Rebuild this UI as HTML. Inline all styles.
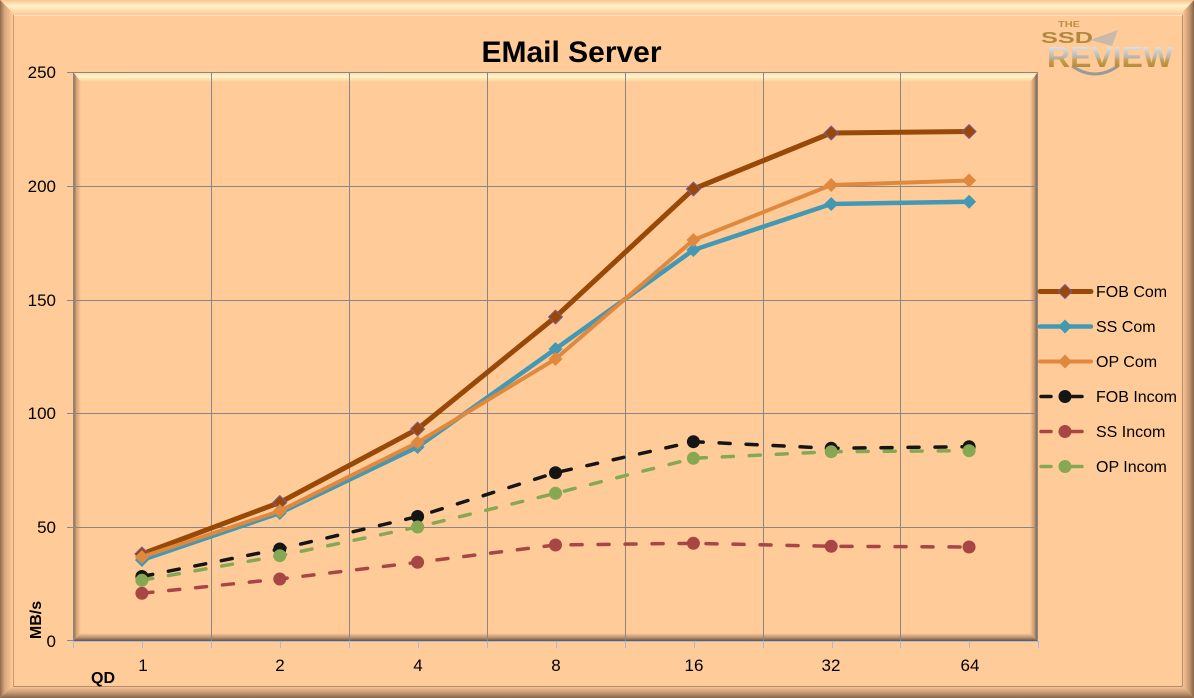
<!DOCTYPE html>
<html><head><meta charset="utf-8"><style>
html,body{margin:0;padding:0;background:#FFCC99;}
svg{display:block;}
text{font-family:"Liberation Sans",sans-serif;}
</style></head><body>
<svg width="1194" height="698" viewBox="0 0 1194 698" xmlns="http://www.w3.org/2000/svg">
<defs>
<linearGradient id="oTop" x1="0" y1="0" x2="0" y2="1"><stop offset="0" stop-color="#F8C490"/><stop offset="0.45" stop-color="#FFF2C8"/><stop offset="1" stop-color="#FFD2A2"/></linearGradient>
<linearGradient id="oLeft" x1="0" y1="0" x2="1" y2="0"><stop offset="0" stop-color="#8E6A50"/><stop offset="0.35" stop-color="#D8A67A"/><stop offset="1" stop-color="#FFCC99"/></linearGradient>
<linearGradient id="oRight" x1="0" y1="0" x2="1" y2="0"><stop offset="0" stop-color="#FFCC99"/><stop offset="0.6" stop-color="#C9986F"/><stop offset="1" stop-color="#85654C"/></linearGradient>
<linearGradient id="oBot" x1="0" y1="0" x2="0" y2="1"><stop offset="0" stop-color="#FFCC99"/><stop offset="0.6" stop-color="#C29470"/><stop offset="1" stop-color="#85654C"/></linearGradient>
<linearGradient id="pTop" x1="0" y1="0" x2="0" y2="1"><stop offset="0" stop-color="#FFD5A5"/><stop offset="0.45" stop-color="#FFF4C8"/><stop offset="1" stop-color="#FFCC99"/></linearGradient>
<linearGradient id="pLeft" x1="0" y1="0" x2="1" y2="0"><stop offset="0" stop-color="#7C5E48"/><stop offset="0.4" stop-color="#CF9F76"/><stop offset="1" stop-color="#FFCC99"/></linearGradient>
<linearGradient id="pRight" x1="0" y1="0" x2="1" y2="0"><stop offset="0" stop-color="#FFCC99"/><stop offset="0.55" stop-color="#C59670"/><stop offset="1" stop-color="#6A5040"/></linearGradient>
<linearGradient id="pBot" x1="0" y1="0" x2="0" y2="1"><stop offset="0" stop-color="#FFCC99"/><stop offset="0.55" stop-color="#BE9270"/><stop offset="1" stop-color="#6A5040"/></linearGradient>
<linearGradient id="logoG" x1="0" y1="0" x2="0" y2="1"><stop offset="0" stop-color="#F4F4F4"/><stop offset="0.5" stop-color="#B8B0A8"/><stop offset="0.55" stop-color="#C9A050"/><stop offset="1" stop-color="#A07828"/></linearGradient>
</defs>
<rect x="0" y="0" width="1194" height="698" fill="#FFCC99"/>
<!-- outer bevel -->
<polygon points="0,0 1194,0 1182,13 13,13" fill="url(#oTop)"/>
<polygon points="0,0 13,13 13,686 0,698" fill="url(#oLeft)"/>
<polygon points="1194,0 1194,698 1182,686 1182,13" fill="url(#oRight)"/>
<polygon points="0,698 1194,698 1182,686 13,686" fill="url(#oBot)"/>
<line x1="13" y1="15.5" x2="1183" y2="15.5" stroke="#FFE6C0" stroke-width="1"/>
<line x1="13.5" y1="15" x2="13.5" y2="687" stroke="#C49A74" stroke-width="1"/>
<line x1="1182.5" y1="15" x2="1182.5" y2="687" stroke="#B48C6C" stroke-width="1"/>
<line x1="13" y1="686.5" x2="1183" y2="686.5" stroke="#B48C6C" stroke-width="1"/>

<!-- logo -->
<text x="1058" y="27" font-size="8" font-weight="bold" fill="#B89048" textLength="22" lengthAdjust="spacingAndGlyphs">THE</text>
<text x="1041" y="43" font-size="16" font-weight="bold" fill="#B08840" textLength="52" lengthAdjust="spacingAndGlyphs">SSD</text>
<path d="M1090 40 L1118 30 L1112 46 Z" fill="#B0B0B0" opacity="0.7"/>
<path d="M1072 66 Q1095 82 1118 66" stroke="#9A9A9A" stroke-width="3" fill="none"/>
<text x="1047" y="67" font-size="29" font-weight="bold" fill="url(#logoG)" textLength="126" lengthAdjust="spacingAndGlyphs">REVIEW</text>

<!-- title -->
<text x="571.5" y="62" font-size="30" font-weight="bold" text-anchor="middle" fill="#000">EMail Server</text>

<!-- plot bevel -->
<rect x="73" y="72" width="965" height="569" fill="#FFCC99"/>
<polygon points="73,72 1038,72 1030,82 81,82" fill="url(#pTop)"/>
<polygon points="73,72 81,82 81,633 73,641" fill="url(#pLeft)"/>
<polygon points="1038,72 1038,641 1030,633 1030,82" fill="url(#pRight)"/>
<polygon points="73,641 1038,641 1030,633 81,633" fill="url(#pBot)"/>

<!-- gridlines -->
<g stroke="#878787" stroke-width="1">
<line x1="67" y1="72.5" x2="1038" y2="72.5"/>
<line x1="67" y1="186.5" x2="1038" y2="186.5"/>
<line x1="67" y1="300.5" x2="1038" y2="300.5"/>
<line x1="67" y1="413.5" x2="1038" y2="413.5"/>
<line x1="67" y1="527.5" x2="1038" y2="527.5"/>
<line x1="67" y1="640.5" x2="73" y2="640.5"/>
<line x1="211.5" y1="72" x2="211.5" y2="641"/>
<line x1="349.5" y1="72" x2="349.5" y2="641"/>
<line x1="487.5" y1="72" x2="487.5" y2="641"/>
<line x1="625.5" y1="72" x2="625.5" y2="641"/>
<line x1="763.5" y1="72" x2="763.5" y2="641"/>
<line x1="900.5" y1="72" x2="900.5" y2="641"/>
<line x1="73.5" y1="72" x2="73.5" y2="641"/>
<line x1="1037.5" y1="72" x2="1037.5" y2="641"/>
</g>
<!-- x axis -->
<g stroke="#9DBDE6" stroke-width="1">
<line x1="73" y1="641.5" x2="1039" y2="641.5"/>
<line x1="73.5" y1="641" x2="73.5" y2="648"/>
<line x1="142.5" y1="641" x2="142.5" y2="648"/>
<line x1="211.5" y1="641" x2="211.5" y2="648"/>
<line x1="280.5" y1="641" x2="280.5" y2="648"/>
<line x1="349.5" y1="641" x2="349.5" y2="648"/>
<line x1="418.5" y1="641" x2="418.5" y2="648"/>
<line x1="487.5" y1="641" x2="487.5" y2="648"/>
<line x1="556.5" y1="641" x2="556.5" y2="648"/>
<line x1="625.5" y1="641" x2="625.5" y2="648"/>
<line x1="694.5" y1="641" x2="694.5" y2="648"/>
<line x1="763.5" y1="641" x2="763.5" y2="648"/>
<line x1="832.5" y1="641" x2="832.5" y2="648"/>
<line x1="900.5" y1="641" x2="900.5" y2="648"/>
<line x1="969.5" y1="641" x2="969.5" y2="648"/>
<line x1="1038.5" y1="641" x2="1038.5" y2="648"/>
</g>

<!-- y labels -->
<g font-size="17" fill="#000" text-anchor="end">
<text x="56" y="78">250</text>
<text x="56" y="192">200</text>
<text x="56" y="306">150</text>
<text x="56" y="419">100</text>
<text x="56" y="533">50</text>
<text x="56" y="647">0</text>
</g>
<!-- x labels -->
<g font-size="17" fill="#000" text-anchor="middle">
<text x="143" y="671">1</text>
<text x="280" y="671">2</text>
<text x="418" y="671">4</text>
<text x="556" y="671">8</text>
<text x="694" y="671">16</text>
<text x="831" y="671">32</text>
<text x="970" y="671">64</text>
</g>
<text x="103" y="683" font-size="16" font-weight="bold" text-anchor="middle" fill="#000">QD</text>
<text transform="translate(41,620) rotate(-90)" font-size="16" font-weight="bold" text-anchor="middle" fill="#000">MB/s</text>

<!-- series -->
<g fill="none" stroke-linejoin="round">
<polyline points="141.9,554 279.8,502.5 417.6,429 555.5,317 693.4,189 831.2,133 969.1,131.5" stroke="#984807" stroke-width="5"/>
<g fill="#984807" stroke="#7E5C98" stroke-width="1">
<path d="M141.9,547 l7,7 l-7,7 l-7,-7z"/><path d="M279.8,495.5 l7,7 l-7,7 l-7,-7z"/><path d="M417.6,422 l7,7 l-7,7 l-7,-7z"/><path d="M555.5,310 l7,7 l-7,7 l-7,-7z"/><path d="M693.4,182 l7,7 l-7,7 l-7,-7z"/><path d="M831.2,126 l7,7 l-7,7 l-7,-7z"/><path d="M969.1,124.5 l7,7 l-7,7 l-7,-7z"/>
</g>
<polyline points="141.9,560 279.8,513 417.6,447 555.5,349 693.4,250 831.2,204 969.1,201.7" stroke="#4398B4" stroke-width="4.5"/>
<g fill="#4398B4" stroke="none">
<path d="M141.9,553 l7,7 l-7,7 l-7,-7z"/><path d="M279.8,506 l7,7 l-7,7 l-7,-7z"/><path d="M417.6,440 l7,7 l-7,7 l-7,-7z"/><path d="M555.5,342 l7,7 l-7,7 l-7,-7z"/><path d="M693.4,243 l7,7 l-7,7 l-7,-7z"/><path d="M831.2,197 l7,7 l-7,7 l-7,-7z"/><path d="M969.1,194.7 l7,7 l-7,7 l-7,-7z"/>
</g>
<polyline points="141.9,557 279.8,511 417.6,442.5 555.5,359 693.4,240 831.2,185 969.1,180.5" stroke="#E0883E" stroke-width="4"/>
<g fill="#E0883E" stroke="none">
<path d="M141.9,550 l7,7 l-7,7 l-7,-7z"/><path d="M279.8,504 l7,7 l-7,7 l-7,-7z"/><path d="M417.6,435.5 l7,7 l-7,7 l-7,-7z"/><path d="M555.5,352 l7,7 l-7,7 l-7,-7z"/><path d="M693.4,233 l7,7 l-7,7 l-7,-7z"/><path d="M831.2,178 l7,7 l-7,7 l-7,-7z"/><path d="M969.1,173.5 l7,7 l-7,7 l-7,-7z"/>
</g>
<polyline points="141.9,576.5 279.8,549 417.6,516.5 555.5,472.7 693.4,441.7 831.2,448.3 969.1,446.7" stroke="#151515" stroke-width="3.5" stroke-dasharray="11 16" stroke-linecap="round"/>
<g fill="#151515"><circle cx="141.9" cy="576.5" r="6.5"/><circle cx="279.8" cy="549" r="6.5"/><circle cx="417.6" cy="516.5" r="6.5"/><circle cx="555.5" cy="472.7" r="6.5"/><circle cx="693.4" cy="441.7" r="6.5"/><circle cx="831.2" cy="448.3" r="6.5"/><circle cx="969.1" cy="446.7" r="6.5"/></g>
<polyline points="141.9,593.3 279.8,579 417.6,562.3 555.5,545 693.4,543.3 831.2,546.3 969.1,547" stroke="#A84545" stroke-width="3.5" stroke-dasharray="11 16" stroke-linecap="round"/>
<g fill="#A84545"><circle cx="141.9" cy="593.3" r="6.5"/><circle cx="279.8" cy="579" r="6.5"/><circle cx="417.6" cy="562.3" r="6.5"/><circle cx="555.5" cy="545" r="6.5"/><circle cx="693.4" cy="543.3" r="6.5"/><circle cx="831.2" cy="546.3" r="6.5"/><circle cx="969.1" cy="547" r="6.5"/></g>
<polyline points="141.9,580.3 279.8,555.7 417.6,527 555.5,493.3 693.4,458.3 831.2,451.7 969.1,450.7" stroke="#87A852" stroke-width="3.5" stroke-dasharray="11 16" stroke-linecap="round"/>
<g fill="#87A852"><circle cx="141.9" cy="580.3" r="6.5"/><circle cx="279.8" cy="555.7" r="6.5"/><circle cx="417.6" cy="527" r="6.5"/><circle cx="555.5" cy="493.3" r="6.5"/><circle cx="693.4" cy="458.3" r="6.5"/><circle cx="831.2" cy="451.7" r="6.5"/><circle cx="969.1" cy="450.7" r="6.5"/></g>
</g>

<!-- legend -->
<g>
<line x1="1040" y1="291.5" x2="1091" y2="291.5" stroke="#984807" stroke-width="5" stroke-linecap="round"/>
<path d="M1065,284.5 l7,7 l-7,7 l-7,-7z" fill="#984807" stroke="#7E5C98" stroke-width="1"/>
<line x1="1040" y1="326.5" x2="1091" y2="326.5" stroke="#4398B4" stroke-width="4.5" stroke-linecap="round"/>
<path d="M1065,319.5 l7,7 l-7,7 l-7,-7z" fill="#4398B4"/>
<line x1="1040" y1="361.5" x2="1091" y2="361.5" stroke="#E0883E" stroke-width="4" stroke-linecap="round"/>
<path d="M1065,354.5 l7,7 l-7,7 l-7,-7z" fill="#E0883E"/>
<g stroke-width="3.5" stroke-linecap="round">
<line x1="1041" y1="396.5" x2="1051" y2="396.5" stroke="#151515"/><line x1="1072" y1="396.5" x2="1082" y2="396.5" stroke="#151515"/>
<line x1="1041" y1="431.5" x2="1051" y2="431.5" stroke="#A84545"/><line x1="1072" y1="431.5" x2="1082" y2="431.5" stroke="#A84545"/>
<line x1="1041" y1="466.5" x2="1051" y2="466.5" stroke="#87A852"/><line x1="1072" y1="466.5" x2="1082" y2="466.5" stroke="#87A852"/>
</g>
<circle cx="1065" cy="396.5" r="6.5" fill="#151515"/>
<circle cx="1065" cy="431.5" r="6.5" fill="#A84545"/>
<circle cx="1065" cy="466.5" r="6.5" fill="#87A852"/>
<g font-size="16" fill="#000">
<text x="1096" y="297">FOB Com</text>
<text x="1096" y="332">SS Com</text>
<text x="1096" y="367">OP Com</text>
<text x="1096" y="402">FOB Incom</text>
<text x="1096" y="437">SS Incom</text>
<text x="1096" y="472">OP Incom</text>
</g>
</g>
</svg>
</body></html>
